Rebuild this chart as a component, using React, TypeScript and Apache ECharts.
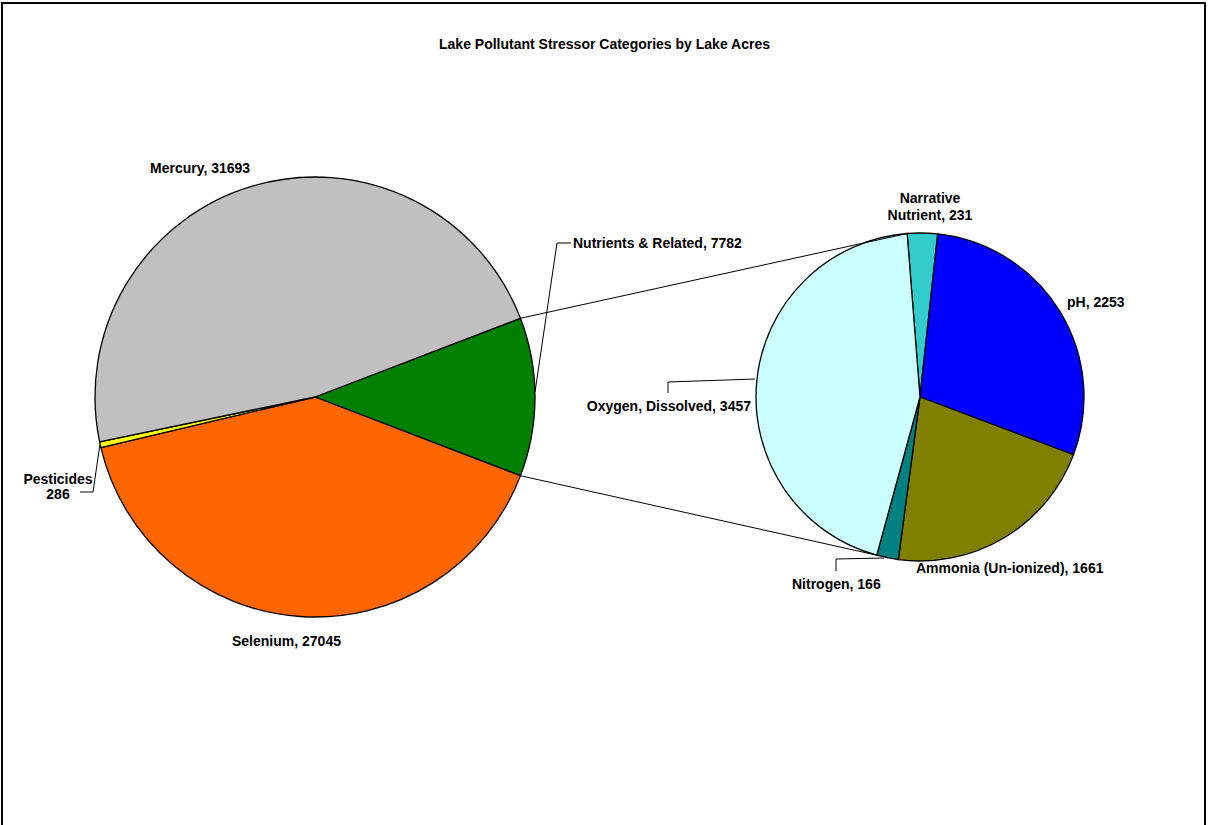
import React, { useEffect, useRef } from "react";
import * as echarts from "echarts";

const mainNames = ["Nutrients & Related", "Selenium", "Pesticides", "Mercury"];
const mainValues = [7782, 27045, 286, 31693];
const mainColors = ["#008000", "#FF6600", "#FFFF00", "#C0C0C0"];

const subNames = ["Narrative Nutrient", "pH", "Ammonia (Un-ionized)", "Nitrogen", "Oxygen, Dissolved"];
const subValues = [231, 2253, 1661, 166, 3457];
const subColors = ["#33CCCC", "#0000FF", "#808000", "#008080", "#CCFFFF"];

const TITLE = "Lake Pollutant Stressor Categories by Lake Acres";
const FONT = "'Liberation Sans', Arial, Helvetica, sans-serif";

// layout (not data)
const MAIN_C = [315, 397];
const MAIN_R = 220;
const SUB_C = [920, 397];
const SUB_R = 164;
const SUB_START = 94.5;

type LP = { x: number; y: number; align: string; line?: number[][]; lh?: number };
const mainLabelLayout: Record<string, LP> = {
  "Nutrients & Related": { x: 573, y: 243, align: "left", line: [[535, 392], [557, 243], [571, 243]] },
  Selenium: { x: 232, y: 641, align: "left" },
  Pesticides: { x: 58, y: 486, align: "center", line: [[100, 444], [93, 492], [80, 492]], lh: 15 },
  Mercury: { x: 150, y: 168, align: "left" },
};
const subLabelLayout: Record<string, LP> = {
  "Narrative Nutrient": { x: 930, y: 206, align: "center", lh: 17 },
  pH: { x: 1067, y: 302, align: "left" },
  "Ammonia (Un-ionized)": { x: 916, y: 568, align: "left" },
  Nitrogen: { x: 792, y: 584, align: "left", line: [[884, 558], [836, 559], [836, 571]] },
  "Oxygen, Dissolved": { x: 751, y: 406, align: "right", line: [[755, 379], [668, 382], [668, 393]] },
};

function mainLabelText(name: string, value: number) {
  if (name === "Pesticides") return `${name}\n${value}`;
  return `${name}, ${value}`;
}
function subLabelText(name: string, value: number) {
  if (name === "Narrative Nutrient") return `Narrative\nNutrient, ${value}`;
  return `${name}, ${value}`;
}

export default function App() {
  const ref = useRef<HTMLDivElement>(null);
  useEffect(() => {
    document.body.style.margin = "0";
    if (!ref.current) return;
    const chart = echarts.init(ref.current, undefined, { renderer: "svg" });

    const mainTotal = mainValues.reduce((a, b) => a + b, 0);
    const subTotal = subValues.reduce((a, b) => a + b, 0);
    const half = ((mainValues[0] / mainTotal) * 360) / 2;
    const rad = Math.PI / 180;
    const p1 = [MAIN_C[0] + MAIN_R * Math.cos(half * rad), MAIN_C[1] - MAIN_R * Math.sin(half * rad)];
    const p2 = [MAIN_C[0] + MAIN_R * Math.cos(half * rad), MAIN_C[1] + MAIN_R * Math.sin(half * rad)];
    const firstFour = subValues.slice(0, 4).reduce((a, b) => a + b, 0);
    const subEnd = SUB_START - (firstFour / subTotal) * 360;
    const q1 = [SUB_C[0] + SUB_R * Math.cos(SUB_START * rad), SUB_C[1] - SUB_R * Math.sin(SUB_START * rad)];
    const q2 = [SUB_C[0] + SUB_R * Math.cos(subEnd * rad), SUB_C[1] - SUB_R * Math.sin(subEnd * rad)];

    const labelBase = {
      show: true,
      color: "#000",
      fontFamily: FONT,
      fontWeight: "bold" as const,
      fontSize: 14,
      position: "outside" as const,
    };

    const makeLayout = (names: string[], map: Record<string, LP>) => (params: any) => {
      const lp = map[names[params.dataIndex]];
      if (!lp) return {};
      const out: any = { x: lp.x, y: lp.y, align: lp.align, verticalAlign: "middle" };
      if (lp.line) out.labelLinePoints = lp.line;
      return out;
    };

    chart.setOption({
      animation: false,
      backgroundColor: "#fff",
      title: {
        text: TITLE,
        left: "center",
        top: 32,
        textStyle: { fontFamily: FONT, fontWeight: "bold", fontSize: 14, color: "#000" },
      },
      graphic: [
        {
          type: "rect",
          shape: { x: 2, y: 3, width: 1203, height: 900 },
          style: { fill: "none", stroke: "#000", lineWidth: 2 },
          silent: true,
        },
        {
          type: "line",
          shape: { x1: p1[0], y1: p1[1], x2: q1[0], y2: q1[1] },
          style: { stroke: "#000", lineWidth: 1 },
          silent: true,
          z: 10,
        },
        {
          type: "line",
          shape: { x1: p2[0], y1: p2[1], x2: q2[0], y2: q2[1] },
          style: { stroke: "#000", lineWidth: 1 },
          silent: true,
          z: 10,
        },
      ],
      series: [
        {
          type: "pie",
          center: MAIN_C,
          radius: MAIN_R,
          startAngle: half,
          clockwise: true,
          avoidLabelOverlap: false,
          silent: true,
          emphasis: { disabled: true },
          itemStyle: { borderColor: "#000", borderWidth: 1.3 },
          labelLine: { show: true, lineStyle: { color: "#000", width: 1 } },
          labelLayout: makeLayout(mainNames, mainLabelLayout),
          data: mainNames.map((n, i) => {
            const lp = mainLabelLayout[n];
            return {
              name: n,
              value: mainValues[i],
              itemStyle: { color: mainColors[i] },
              label: { ...labelBase, formatter: mainLabelText(n, mainValues[i]), lineHeight: lp?.lh ?? 16 },
              labelLine: { show: !!lp?.line },
            };
          }),
        },
        {
          type: "pie",
          center: SUB_C,
          radius: SUB_R,
          startAngle: SUB_START,
          clockwise: true,
          avoidLabelOverlap: false,
          silent: true,
          emphasis: { disabled: true },
          itemStyle: { borderColor: "#000", borderWidth: 1.3 },
          labelLine: { show: true, lineStyle: { color: "#000", width: 1 } },
          labelLayout: makeLayout(subNames, subLabelLayout),
          data: subNames.map((n, i) => {
            const lp = subLabelLayout[n];
            return {
              name: n,
              value: subValues[i],
              itemStyle: { color: subColors[i] },
              label: { ...labelBase, formatter: subLabelText(n, subValues[i]), lineHeight: lp?.lh ?? 16 },
              labelLine: { show: !!lp?.line },
            };
          }),
        },
      ],
    });
    return () => chart.dispose();
  }, []);
  return <div ref={ref} style={{ width: 1209, height: 825 }} />;
}
